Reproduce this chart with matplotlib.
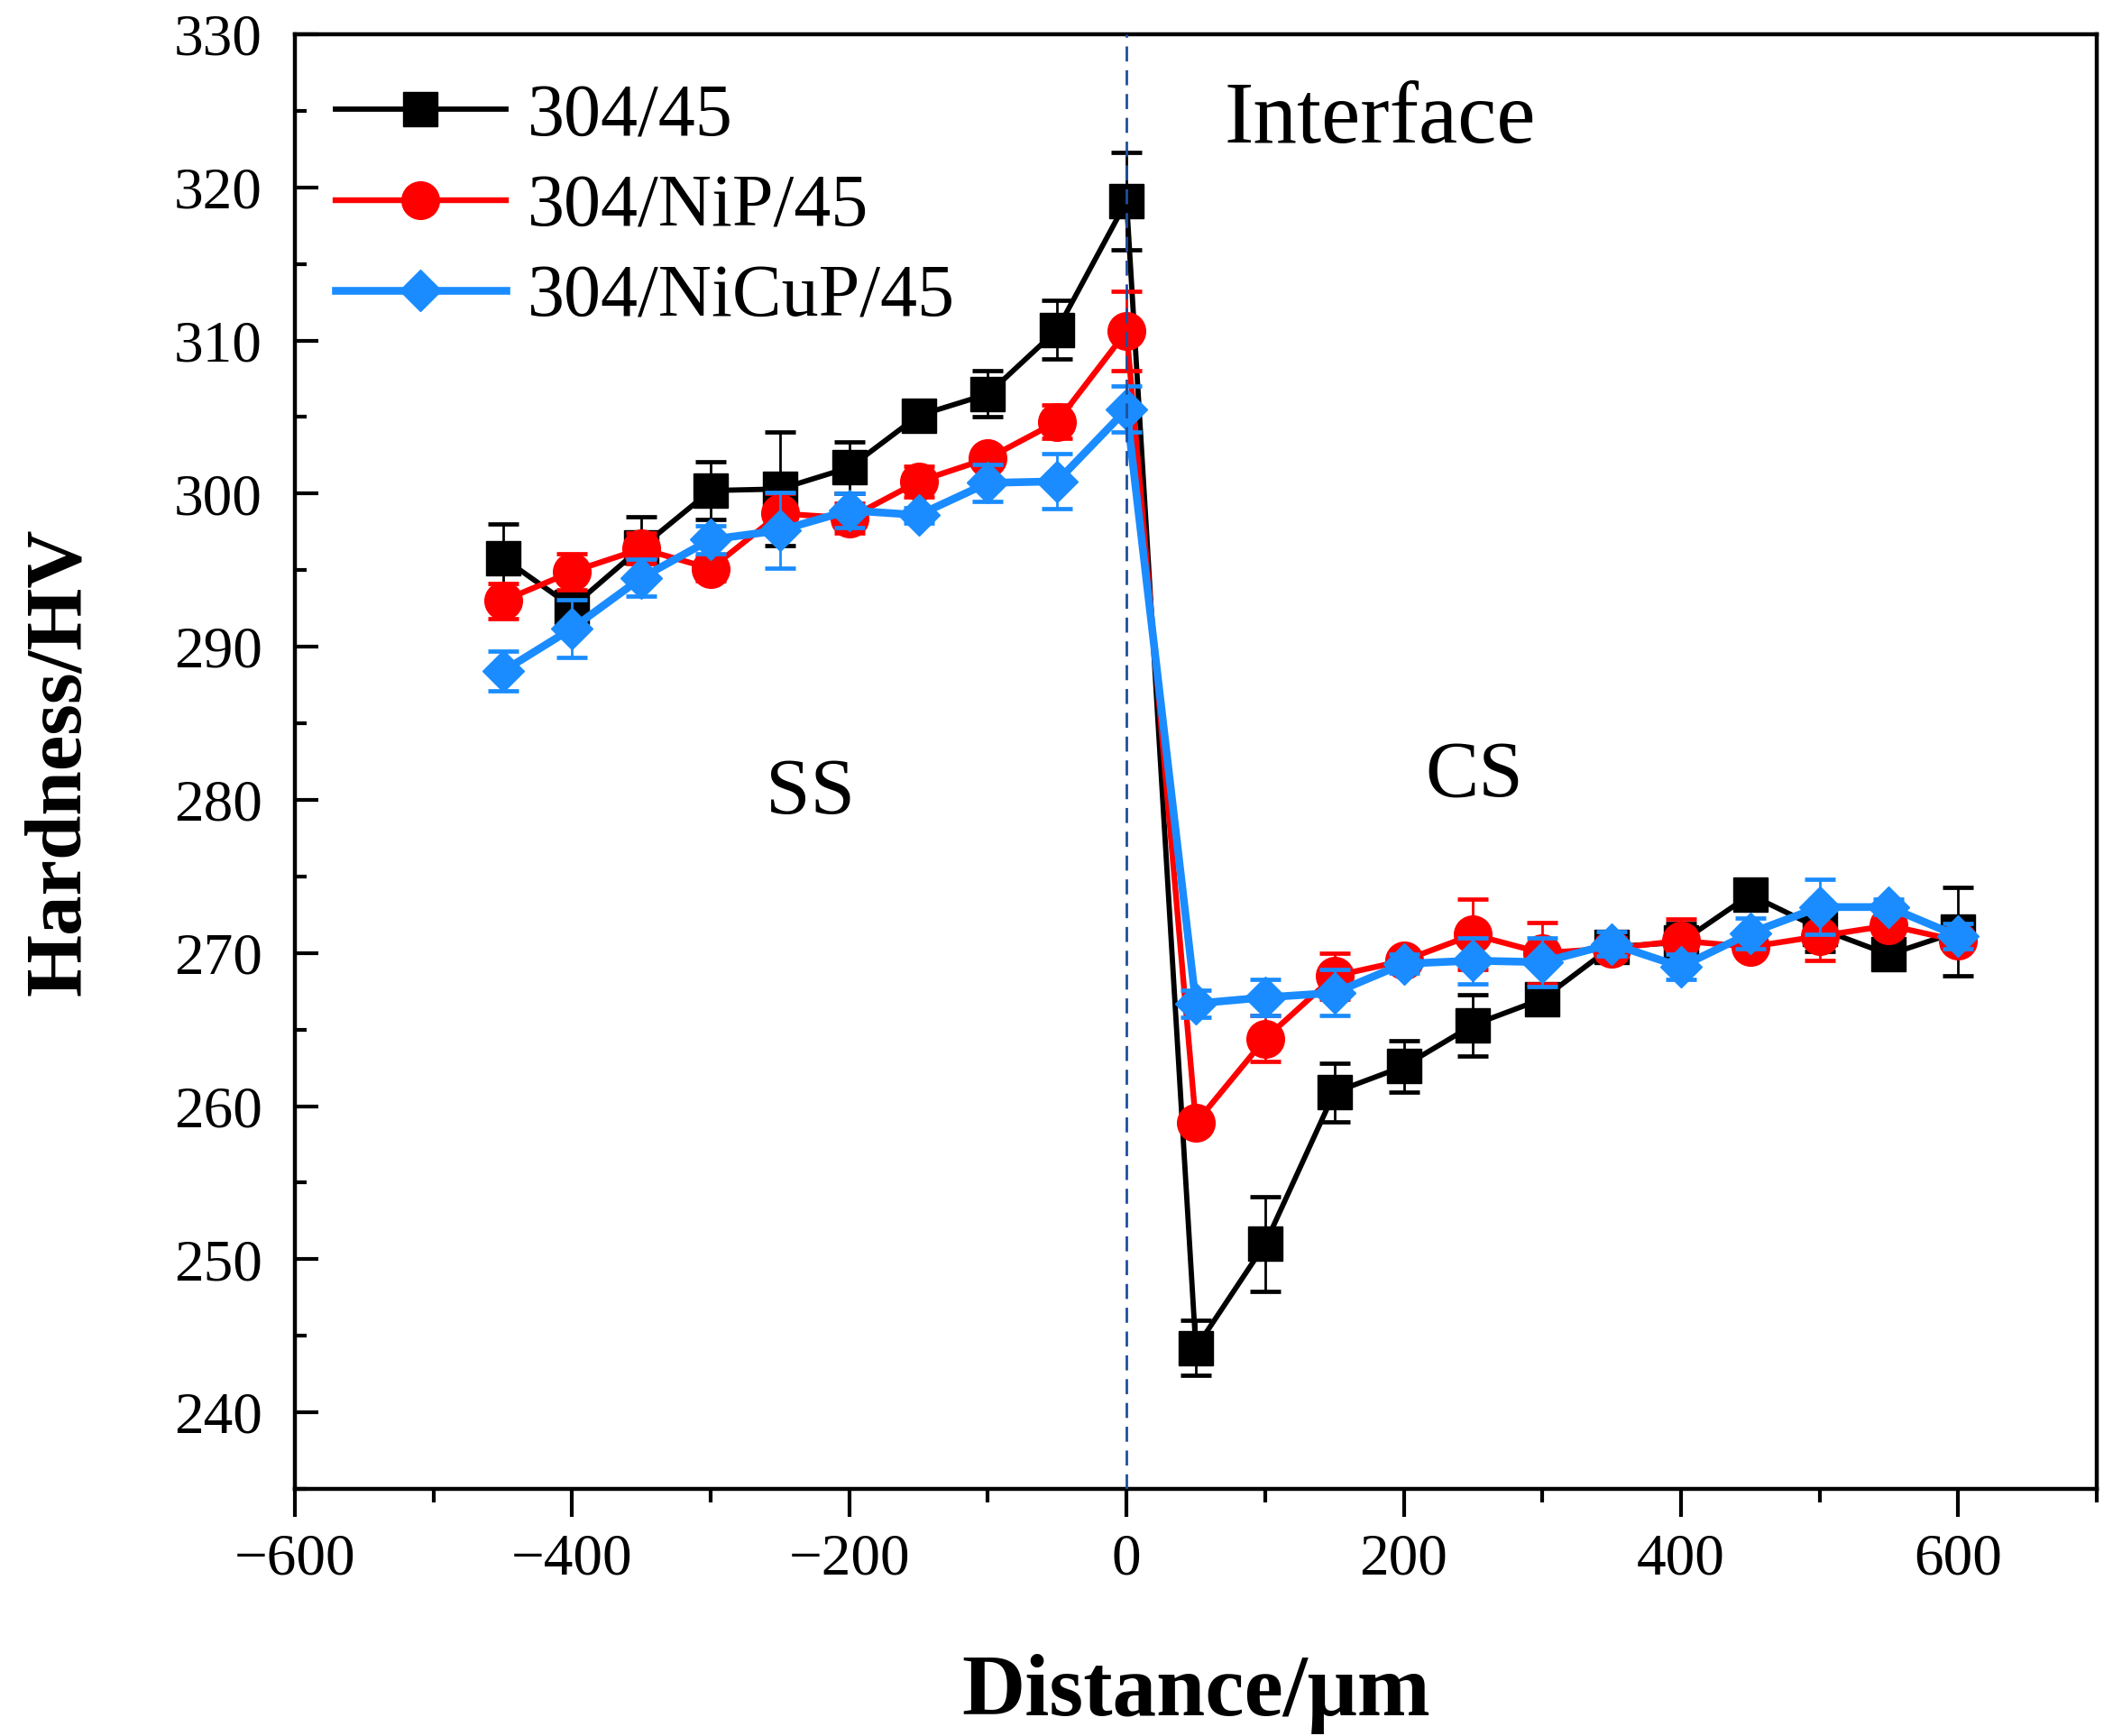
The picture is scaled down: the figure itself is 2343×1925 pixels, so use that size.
import matplotlib.pyplot as plt
from matplotlib.ticker import MultipleLocator

plt.rcParams["font.family"] = ["Liberation Serif", "DejaVu Serif"]

distance = [-450, -400, -350, -300, -250, -200, -150, -100, -50, 0,
            50, 100, 150, 200, 250, 300, 350, 400, 450, 500, 550, 600]

hv_304_45 = [295.8, 292.6, 296.5, 300.2, 300.3, 301.7, 305.1, 306.5, 310.7, 319.1,
             244.2, 251.0, 260.9, 262.6, 265.3, 267.0, 270.4, 270.7, 273.8, 271.6, 269.9, 271.4]
err_304_45 = [2.2, 1.0, 2.0, 1.9, 3.7, 1.7, 0.5, 1.5, 1.9, 3.2,
              1.8, 3.1, 1.9, 1.7, 2.0, 0.6, 0.8, 1.2, 0.3, 1.5, 0.5, 2.9]

hv_304_nip_45 = [293.0, 294.9, 296.4, 295.1, 298.7, 298.4, 300.8, 302.3, 304.7, 310.6,
                 258.9, 264.4, 268.5, 269.5, 271.2, 270.0, 270.3, 270.8, 270.4, 271.1, 271.8, 270.8]
err_304_nip_45 = [1.15, 1.2, 1.0, 0.8, 1.3, 1.0, 1.0, 0.6, 1.1, 2.6,
                  0.5, 1.5, 1.5, 0.3, 2.3, 2.0, 0.7, 1.4, 0.4, 1.6, 0.5, 0.6]

hv_304_nicup_45 = [288.4, 291.2, 294.5, 297.0, 297.6, 298.9, 298.6, 300.7, 300.8, 305.5,
                   266.7, 267.1, 267.4, 269.3, 269.5, 269.4, 270.6, 269.1, 271.3, 273.0, 273.0, 271.1]
err_304_nicup_45 = [1.3, 1.9, 1.2, 0.9, 2.45, 1.1, 0.5, 1.2, 1.8, 1.5,
                    0.9, 1.2, 1.5, 0.6, 1.5, 1.6, 0.8, 0.8, 1.0, 1.8, 0.5, 0.8]

labels = ["304/45", "304/NiP/45", "304/NiCuP/45"]
colors = ["#000000", "#ff0000", "#1a8cff"]

fig = plt.figure(figsize=(23.43, 19.25), dpi=100)
ax = fig.add_axes([0.1396, 0.1423, 0.8527, 0.8380])

eb1 = ax.errorbar(distance, hv_304_45, yerr=err_304_45, color=colors[0], marker="s",
                  markersize=27, linewidth=4.2, elinewidth=2.0, capsize=12, capthick=3.4,
                  zorder=3)
eb2 = ax.errorbar(distance, hv_304_nip_45, yerr=err_304_nip_45, color=colors[1], marker="o",
                  markersize=30, linewidth=4.6, elinewidth=2.0, capsize=12, capthick=3.4,
                  zorder=4)
eb3 = ax.errorbar(distance, hv_304_nicup_45, yerr=err_304_nicup_45, color=colors[2], marker="D",
                  markersize=23, linewidth=6.2, elinewidth=2.0, capsize=12, capthick=3.4,
                  zorder=5)

# interface line
ax.axvline(0, color="#1f4f9c", linestyle=(0, (6, 3.5)), linewidth=2.0, zorder=6)

ax.text(183, 324.3, "Interface", fontsize=70, ha="center", va="center")
ax.text(-228, 280.4, "SS", fontsize=64, ha="center", va="center")
ax.text(251, 281.5, "CS", fontsize=64, ha="center", va="center")

ax.set_xlim(-600, 700)
ax.set_ylim(235, 330)
ax.xaxis.set_major_locator(MultipleLocator(200))
ax.xaxis.set_minor_locator(MultipleLocator(100))
ax.yaxis.set_major_locator(MultipleLocator(10))
ax.yaxis.set_minor_locator(MultipleLocator(5))
ax.set_yticks(range(240, 331, 10))

ax.tick_params(axis="x", which="major", direction="out", length=22, width=3, labelsize=47, pad=13)
ax.tick_params(axis="x", which="minor", direction="out", length=11, width=3)
ax.tick_params(axis="y", which="major", direction="in", length=19, width=3, labelsize=47, pad=26)
ax.tick_params(axis="y", which="minor", direction="in", length=9, width=3)
for side in ax.spines.values():
    side.set_linewidth(3.2)

ax.set_xlabel("Distance/μm", fontsize=70, fontweight="bold", labelpad=54)
ax.set_ylabel("Hardness/HV", fontsize=64, fontweight="bold", labelpad=62)

handles = [eb1[0], eb2[0], eb3[0]]
ax.legend(handles, labels, loc="upper left", bbox_to_anchor=(0.0, 0.994), frameon=False,
          fontsize=59, handlelength=2.3, handletextpad=0.3, labelspacing=0.3,
          borderaxespad=0.3, borderpad=0.25)

plt.savefig("out.png", dpi=100)
plt.close()
